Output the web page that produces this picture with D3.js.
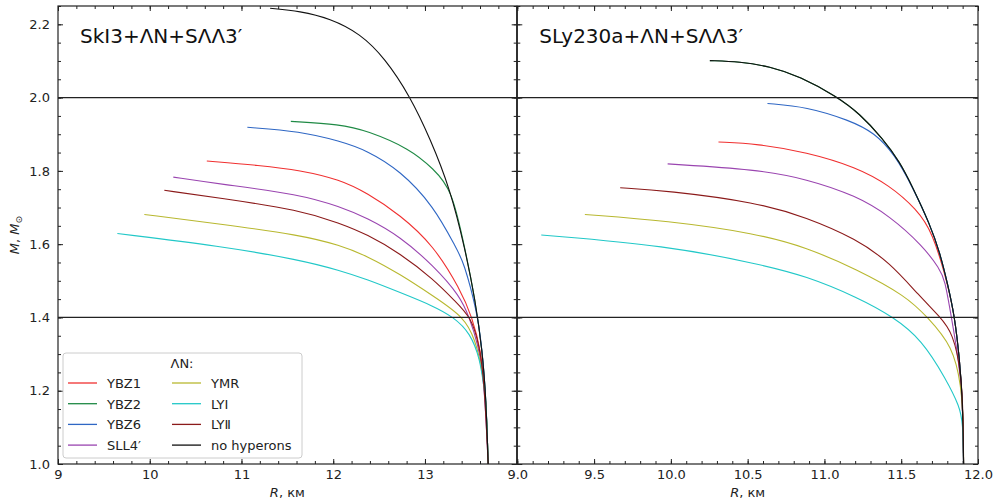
<!DOCTYPE html>
<html>
<head>
<meta charset="utf-8">
<script src="https://cdn.jsdelivr.net/npm/d3@7"></script>
<style>
  body { margin: 0; background: #fff; }
  svg { font-family: "DejaVu Sans", sans-serif; }
</style>
</head>
<body>
<svg width="996" height="504"></svg>
<script>
// mass-radius curves, [R km, M Msun]
// SkI3 panel
var skiYBZ1 = [[10.622,1.827],[11.2,1.815],[11.639,1.802],[12.075,1.776],[12.366,1.740],[12.729,1.680],[13.093,1.597],[13.384,1.477],[13.515,1.400],[13.61,1.312],[13.667,1.175],[13.689,1.0]];
var skiYBZ2 = [[11.538,1.935],[12.075,1.927],[12.366,1.910],[12.839,1.860],[13.093,1.805],[13.293,1.751],[13.438,1.586],[13.547,1.449],[13.624,1.312],[13.667,1.175],[13.689,1.0]];
var skiYBZ6 = [[11.064,1.919],[11.639,1.908],[12.075,1.881],[12.366,1.856],[12.729,1.801],[13.093,1.705],[13.348,1.586],[13.42,1.553],[13.569,1.416],[13.624,1.312],[13.667,1.175],[13.689,1.0]];
var skiSLL4 = [[10.257,1.783],[10.767,1.764],[11.639,1.736],[12.075,1.702],[12.366,1.672],[12.729,1.621],[13.093,1.541],[13.384,1.458],[13.482,1.401],[13.58,1.326],[13.646,1.23],[13.689,1.0]];
var skiYMR = [[9.941,1.681],[10.767,1.655],[11.639,1.625],[12.075,1.597],[12.366,1.568],[12.729,1.518],[13.093,1.458],[13.427,1.401],[13.547,1.34],[13.624,1.258],[13.667,1.175],[13.689,1.0]];
var skiLY1 = [[9.647,1.629],[10.767,1.595],[11.639,1.557],[12.075,1.528],[12.366,1.504],[12.729,1.468],[13.093,1.431],[13.311,1.401],[13.493,1.358],[13.602,1.285],[13.64,1.212],[13.667,1.175],[13.689,1.0]];
var skiLY2 = [[10.159,1.747],[10.767,1.726],[11.639,1.693],[12.075,1.657],[12.366,1.627],[12.729,1.575],[13.093,1.504],[13.33,1.444],[13.504,1.40],[13.591,1.326],[13.646,1.23],[13.689,1.0]];
var skiNoHyp = [[11.312,2.244],[11.639,2.236],[11.966,2.216],[12.293,2.175],[12.566,2.107],[12.839,2.003],[13.057,1.888],[13.275,1.751],[13.438,1.586],[13.547,1.449],[13.624,1.312],[13.667,1.175],[13.689,1.0]];

// SLy230a panel
var slyYBZ1 = [[10.310,1.879],[10.560,1.874],[10.883,1.851],[11.208,1.810],[11.425,1.760],[11.599,1.696],[11.705,1.633],[11.803,1.490],[11.848,1.403],[11.880,1.285],[11.900,1.175],[11.906,1.0]];
var slyYBZ2 = [[10.254,2.101],[10.449,2.098],[10.643,2.085],[10.839,2.058],[11.080,2.003],[11.230,1.956],[11.380,1.888],[11.490,1.825],[11.575,1.755],[11.686,1.655],[11.751,1.578],[11.803,1.490],[11.848,1.403],[11.880,1.285],[11.900,1.175],[11.906,1.0]];
var slyYBZ6 = [[10.629,1.984],[10.883,1.975],[11.164,1.938],[11.326,1.904],[11.457,1.845],[11.575,1.755],[11.686,1.655],[11.751,1.578],[11.803,1.490],[11.848,1.403],[11.880,1.285],[11.900,1.175],[11.906,1.0]];
var slySLL4 = [[9.979,1.819],[10.560,1.804],[10.883,1.778],[11.208,1.732],[11.425,1.677],[11.642,1.595],[11.751,1.532],[11.784,1.504],[11.826,1.402],[11.874,1.285],[11.900,1.175],[11.906,1.0]];
var slyYMR = [[9.440,1.681],[9.974,1.664],[10.560,1.629],[10.883,1.591],[11.208,1.532],[11.533,1.458],[11.668,1.402],[11.837,1.321],[11.891,1.212],[11.904,1.12],[11.906,1.0]];
var slyLY1 = [[9.156,1.625],[9.974,1.596],[10.560,1.547],[10.883,1.513],[11.219,1.454],[11.446,1.402],[11.633,1.340],[11.794,1.230],[11.880,1.157],[11.902,1.112],[11.906,1.0]];
var slyLY2 = [[9.670,1.754],[9.974,1.746],[10.560,1.714],[10.883,1.673],[11.208,1.614],[11.425,1.550],[11.620,1.458],[11.751,1.402],[11.837,1.358],[11.892,1.248],[11.904,1.12],[11.906,1.0]];
var slyNoHyp = slyYBZ2.slice();

var seriesNames = ["YBZ1","YBZ2","YBZ6","SLL4\u2032","YMR","LY\u2160","LY\u2161","no hyperons"];
var seriesColors = ["#f03030","#1f8a45","#2f67c4","#9a45b0","#b8b830","#22c8c8","#8b1a1a","#111111"];
var leftCurves = [skiYBZ1, skiYBZ2, skiYBZ6, skiSLL4, skiYMR, skiLY1, skiLY2, skiNoHyp];
var rightCurves = [slyYBZ1, slyYBZ2, slyYBZ6, slySLL4, slyYMR, slyLY1, slyLY2, slyNoHyp];

var leftTicks = [9,10,11,12,13];
var rightTicks = [9.0,9.5,10.0,10.5,11.0,11.5,12.0];
var yTicks = [1.0,1.2,1.4,1.6,1.8,2.0,2.2];
var refLines = [2.0, 1.4];
var titles = ["SkI3+\u039BN+S\u039B\u039B3\u2032", "SLy230a+\u039BN+S\u039B\u039B3\u2032"];

var svg = d3.select("svg");
var top0 = 6, bot0 = 464;
var xL = d3.scaleLinear().domain([9,14]).range([58,516.7]);
var xR = d3.scaleLinear().domain([9,12]).range([517.3,978]);
var y = d3.scaleLinear().domain([1,2.25]).range([bot0,top0]);

function minors(a,b,step) {
  var out = [];
  var n = Math.round((b-a)/step);
  for (var i = 0; i <= n; i++) out.push(+(a + i*step).toFixed(3));
  return out;
}

function drawPanel(x, xticks, xminor, curves, title, showYLabels) {
  var x0 = x.range()[0], x1 = x.range()[1];
  var g = svg.append("g");

  // bottom axis
  g.append("g").attr("transform","translate(0,"+bot0+")")
    .call(d3.axisBottom(x).tickValues(xminor).tickSize(-3).tickFormat(""));
  g.append("g").attr("transform","translate(0,"+bot0+")")
    .call(d3.axisBottom(x).tickValues(xticks).tickSize(-5).tickPadding(6)
      .tickFormat(xticks[1]-xticks[0] < 1 ? d3.format(".1f") : d3.format("d")));
  // top axis
  g.append("g").attr("transform","translate(0,"+top0+")")
    .call(d3.axisTop(x).tickValues(xminor).tickSize(-3).tickFormat(""));
  g.append("g").attr("transform","translate(0,"+top0+")")
    .call(d3.axisTop(x).tickValues(xticks).tickSize(-5).tickFormat(""));
  // left / right axes
  var yminor = minors(1,2.25,0.05);
  g.append("g").attr("transform","translate("+x0+",0)")
    .call(d3.axisLeft(y).tickValues(yminor).tickSize(-3).tickFormat(""));
  g.append("g").attr("transform","translate("+x0+",0)")
    .call(d3.axisLeft(y).tickValues(yTicks).tickSize(-5).tickPadding(8)
      .tickFormat(showYLabels ? d3.format(".1f") : ""));
  g.append("g").attr("transform","translate("+x1+",0)")
    .call(d3.axisRight(y).tickValues(yminor).tickSize(-3).tickFormat(""));
  g.append("g").attr("transform","translate("+x1+",0)")
    .call(d3.axisRight(y).tickValues(yTicks).tickSize(-5).tickFormat(""));

  g.selectAll(".domain").remove();
  g.selectAll(".tick line").attr("stroke","#222").attr("stroke-width",1);
  g.selectAll(".tick text").attr("font-size",13).attr("fill","#222")
    .attr("font-family","DejaVu Sans");

  // B-spline through the read points, smooths reading noise
  var line = d3.line()
    .x(function(d) { return x(d[0]); })
    .y(function(d) { return y(d[1]); })
    .curve(d3.curveBasis);

  curves.forEach(function(c, i) {
    g.append("path")
      .datum(c)
      .attr("fill","none")
      .attr("stroke",seriesColors[i])
      .attr("stroke-width",1.1)
      .attr("stroke-linejoin","round")
      .attr("d",line);
  });

  g.append("rect")
    .attr("x",x0).attr("y",top0)
    .attr("width",x1-x0).attr("height",bot0-top0)
    .attr("fill","none").attr("stroke","#222").attr("stroke-width",1.2);

  g.append("text")
    .attr("x",x0+22).attr("y",43)
    .attr("font-size",20).attr("fill","#111")
    .text(title);

  var lab = g.append("text")
    .attr("x",(x0+x1)/2).attr("y",497)
    .attr("text-anchor","middle").attr("font-size",13).attr("fill","#222");
  lab.append("tspan").attr("font-style","italic").text("R");
  lab.append("tspan").text(", \u043A\u043C");
}

drawPanel(xL, leftTicks, minors(9,14,0.2), leftCurves, titles[0], true);
drawPanel(xR, rightTicks, minors(9,12,0.1), rightCurves, titles[1], false);

// reference mass lines across both panels
refLines.forEach(function(m) {
  svg.append("line")
    .attr("x1",xL.range()[0]).attr("x2",xR.range()[1])
    .attr("y1",y(m)).attr("y2",y(m))
    .attr("stroke","#222").attr("stroke-width",1.2);
});

// y label
var yl = svg.append("text")
  .attr("transform","translate(19,"+((top0+bot0)/2)+") rotate(-90)")
  .attr("text-anchor","middle").attr("font-size",13).attr("fill","#222");
yl.append("tspan").attr("font-style","italic").text("M");
yl.append("tspan").text(", ");
yl.append("tspan").attr("font-style","italic").text("M");
yl.append("tspan").attr("font-size",9).attr("dy",3).text("\u2299");

// legend
var lg = svg.append("g");
lg.append("rect")
  .attr("x",63).attr("y",353).attr("width",239).attr("height",105)
  .attr("rx",3).attr("fill","#fff").attr("fill-opacity",0.85)
  .attr("stroke","#ccc").attr("stroke-width",1);
lg.append("text").attr("x",182).attr("y",368)
  .attr("text-anchor","middle").attr("font-size",13).attr("fill","#222")
  .text("\u039BN:");
seriesNames.forEach(function(name, i) {
  var col = Math.floor(i/4), row = i%4;
  var lx = col === 0 ? 68 : 172;
  var ly = 383 + row*20.7;
  lg.append("line")
    .attr("x1",lx).attr("x2",lx+29).attr("y1",ly).attr("y2",ly)
    .attr("stroke",seriesColors[i]).attr("stroke-width",1.3);
  lg.append("text")
    .attr("x",lx+39).attr("y",ly+5)
    .attr("font-size",13).attr("fill","#222")
    .text(name);
});
</script>
</body>
</html>
